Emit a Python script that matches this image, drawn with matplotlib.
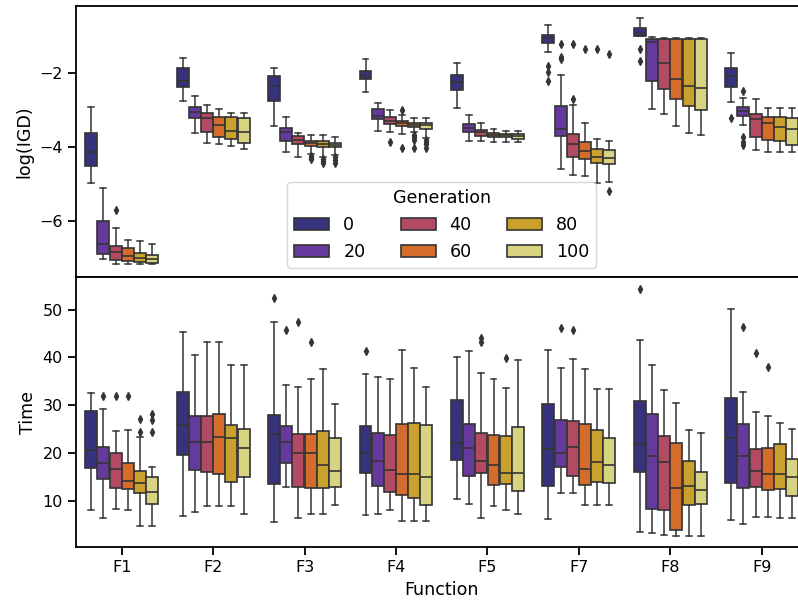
import numpy as np
import matplotlib
matplotlib.use("Agg")
import matplotlib.pyplot as plt
from matplotlib.patches import Patch
import colorsys

functions = ["F1", "F2", "F3", "F4", "F5", "F7", "F8", "F9"]
generations = ["0", "20", "40", "60", "80", "100"]

# ---------- log(IGD) box statistics (rows: functions, cols: generations) ----------
igd_whishi = [
    [-2.91, -5.10, -6.18, -6.51, -6.55, -6.62],
    [-1.60, -2.63, -2.86, -2.98, -3.07, -3.07],
    [-1.87, -3.18, -3.61, -3.67, -3.68, -3.74],
    [-1.63, -2.82, -3.00, -3.14, -3.22, -3.22],
    [-1.74, -3.13, -3.36, -3.52, -3.56, -3.57],
    [-0.71, -2.06, -2.86, -3.34, -3.79, -3.83],
    [-0.50, -1.02, -1.05, -1.05, -1.05, -1.05],
    [-1.47, -2.67, -2.70, -2.95, -2.95, -2.95],
]
igd_q3 = [
    [-3.63, -6.01, -6.68, -6.74, -6.87, -6.92],
    [-1.87, -2.92, -3.09, -3.18, -3.20, -3.22],
    [-2.08, -3.49, -3.71, -3.83, -3.85, -3.88],
    [-1.94, -2.98, -3.20, -3.29, -3.34, -3.34],
    [-2.06, -3.39, -3.55, -3.62, -3.65, -3.66],
    [-0.96, -2.89, -3.66, -3.86, -4.06, -4.07],
    [-0.79, -1.07, -1.07, -1.07, -1.07, -1.07],
    [-1.87, -2.92, -3.10, -3.18, -3.19, -3.21],
]
igd_med = [
    [-4.13, -6.61, -6.85, -6.95, -7.01, -7.04],
    [-2.22, -3.05, -3.22, -3.41, -3.56, -3.60],
    [-2.35, -3.59, -3.81, -3.90, -3.92, -3.95],
    [-2.09, -3.16, -3.29, -3.34, -3.41, -3.41],
    [-2.24, -3.48, -3.60, -3.67, -3.68, -3.71],
    [-1.05, -3.50, -3.93, -4.11, -4.27, -4.30],
    [-0.93, -1.16, -1.74, -2.16, -2.35, -2.41],
    [-2.08, -3.03, -3.25, -3.36, -3.47, -3.50],
]
igd_q1 = [
    [-4.50, -6.89, -7.05, -7.08, -7.11, -7.13],
    [-2.39, -3.22, -3.60, -3.72, -3.78, -3.88],
    [-2.77, -3.83, -3.93, -3.98, -4.01, -4.01],
    [-2.17, -3.25, -3.38, -3.43, -3.47, -3.51],
    [-2.46, -3.59, -3.71, -3.72, -3.74, -3.78],
    [-1.20, -3.69, -4.27, -4.32, -4.42, -4.47],
    [-0.99, -2.22, -2.44, -2.69, -2.88, -3.01],
    [-2.39, -3.16, -3.72, -3.82, -3.85, -3.95],
]
igd_whislo = [
    [-4.98, -7.02, -7.16, -7.16, -7.16, -7.16],
    [-2.76, -3.61, -3.89, -3.93, -3.97, -4.06],
    [-3.44, -4.14, -4.27, -4.19, -4.26, -4.22],
    [-2.50, -3.57, -3.59, -3.65, -3.59, -3.77],
    [-2.95, -3.83, -3.83, -3.86, -3.87, -3.87],
    [-1.44, -4.60, -4.76, -4.78, -4.96, -4.94],
    [-1.01, -2.98, -3.12, -3.44, -3.63, -3.68],
    [-2.78, -3.41, -4.08, -4.13, -4.13, -4.13],
]
igd_fliers = {
    ("F1", "40"): [-5.70],
    ("F3", "60"): [-4.24, -4.29, -4.32],
    ("F3", "80"): [-4.33, -4.38, -4.44],
    ("F3", "100"): [-4.27, -4.35, -4.42],
    ("F4", "40"): [-3.86],
    ("F4", "60"): [-3.00, -4.04],
    ("F4", "80"): [-3.68, -3.73, -3.81, -4.04],
    ("F4", "100"): [-3.81, -3.86, -3.93, -4.02],
    ("F7", "0"): [-1.81, -1.96, -2.22],
    ("F7", "20"): [-1.22, -1.56, -1.63],
    ("F7", "40"): [-1.22, -2.71],
    ("F7", "60"): [-1.35],
    ("F7", "80"): [-1.35],
    ("F7", "100"): [-1.49, -5.18],
    ("F8", "0"): [-1.35, -1.68],
    ("F9", "0"): [-3.22],
    ("F9", "20"): [-2.48, -3.72, -3.86, -3.95],
}

# ---------- Time box statistics ----------
time_whishi = [
    [32.6, 29.2, 24.6, 24.9, 23.4, 17.2],
    [45.3, 40.6, 43.3, 43.3, 38.5, 38.5],
    [47.4, 34.2, 33.9, 35.5, 37.6, 30.2],
    [36.6, 36.0, 35.6, 41.5, 37.9, 33.9],
    [40.1, 41.3, 36.7, 35.5, 33.7, 39.4],
    [41.5, 37.9, 39.7, 37.6, 33.5, 33.5],
    [43.6, 38.5, 33.1, 30.5, 24.9, 24.2],
    [50.1, 32.7, 28.7, 27.7, 26.4, 25.1],
]
time_q3 = [
    [28.8, 21.3, 20.0, 17.9, 16.2, 15.1],
    [32.7, 27.8, 27.7, 28.2, 25.8, 25.1],
    [28.0, 25.7, 24.1, 23.9, 24.7, 23.1],
    [25.7, 24.2, 23.7, 26.1, 26.3, 25.9],
    [31.1, 26.1, 24.3, 23.8, 23.5, 25.5],
    [30.3, 27.0, 26.8, 26.1, 24.8, 23.1],
    [30.9, 28.2, 23.5, 22.1, 18.4, 16.1],
    [31.6, 26.1, 20.8, 21.0, 21.9, 18.8],
]
time_med = [
    [20.6, 18.0, 16.6, 14.1, 13.7, 11.8],
    [25.8, 22.3, 22.3, 23.3, 23.1, 21.0],
    [24.1, 22.3, 20.1, 20.1, 17.6, 16.2],
    [20.0, 18.3, 16.4, 15.6, 15.6, 15.0],
    [22.1, 21.0, 18.4, 17.5, 15.9, 15.9],
    [20.8, 20.0, 21.2, 16.7, 18.2, 17.5],
    [21.9, 19.3, 18.2, 12.6, 13.2, 12.2],
    [23.1, 19.3, 16.2, 15.6, 15.6, 15.1],
]
time_q1 = [
    [16.8, 14.5, 12.8, 12.5, 11.6, 9.3],
    [19.6, 16.4, 16.1, 15.6, 13.9, 15.0],
    [13.5, 17.9, 12.9, 12.7, 12.7, 12.9],
    [15.8, 13.2, 11.9, 11.3, 10.7, 9.2],
    [18.5, 15.3, 15.8, 13.4, 13.6, 12.1],
    [13.2, 17.1, 15.3, 13.4, 14.0, 13.8],
    [16.1, 8.3, 8.0, 3.9, 9.1, 9.3],
    [13.8, 12.7, 12.9, 12.3, 12.5, 11.0],
]
time_whislo = [
    [8.1, 6.5, 8.3, 8.1, 4.8, 4.8],
    [6.9, 7.7, 8.9, 8.9, 8.9, 7.2],
    [5.6, 12.9, 6.5, 7.2, 7.2, 9.2],
    [7.1, 7.2, 8.2, 5.9, 5.9, 5.9],
    [10.4, 9.4, 6.4, 8.9, 8.0, 7.3],
    [6.2, 11.6, 11.6, 9.1, 9.1, 9.1],
    [3.4, 3.2, 2.8, 2.7, 2.7, 2.7],
    [6.0, 5.2, 6.6, 6.6, 6.4, 6.4],
]
time_fliers = {
    ("F1", "20"): [31.9],
    ("F1", "40"): [31.9],
    ("F1", "60"): [31.9],
    ("F1", "80"): [27.1, 24.5],
    ("F1", "100"): [28.1, 27.0, 24.5],
    ("F3", "0"): [52.5],
    ("F3", "20"): [45.8],
    ("F3", "40"): [47.4],
    ("F3", "60"): [43.2],
    ("F4", "0"): [41.3],
    ("F5", "40"): [44.0, 43.3],
    ("F5", "80"): [39.9],
    ("F7", "20"): [46.2],
    ("F7", "40"): [45.7],
    ("F8", "0"): [54.4],
    ("F9", "20"): [46.4],
    ("F9", "40"): [40.9],
    ("F9", "60"): [38.1],
}

# ---------- style ----------
plt.rcParams.update({
    "font.family": "DejaVu Sans",
    "axes.linewidth": 1.3,
    "xtick.major.width": 1.3,
    "ytick.major.width": 1.3,
    "xtick.major.size": 6,
    "ytick.major.size": 6,
    "xtick.labelsize": 11.5,
    "ytick.labelsize": 11.5,
    "axes.labelsize": 12.6,
})

cmap = matplotlib.colormaps["CMRmap"]
n = len(generations)
raw = [cmap(v)[:3] for v in np.linspace(0, 1, n + 2)[1:-1]]


def desat(c, prop=0.75):
    h, l, s = colorsys.rgb_to_hls(*c)
    return colorsys.hls_to_rgb(h, l, s * prop)


colors = [desat(c) for c in raw]
lum = min(colorsys.rgb_to_hls(*c)[1] for c in colors)
gray = (lum * 0.6,) * 3
lw = 1.2

fig = plt.figure(figsize=(7.98, 6.05), dpi=100)
W, H = 798.0, 605.0
left = 76.0 / W
width = (807.4 - 76.0) / W
ax1 = fig.add_axes([left, 1 - 276.7 / H, width, (276.7 - 5.7) / H])
ax2 = fig.add_axes([left, 1 - 547.3 / H, width, (547.3 - 276.7) / H], sharex=ax1)

group_w = 0.8
each = group_w / n
offsets = np.linspace(0, group_w - each, n) - (group_w - each) / 2
box_w = each * 0.98


def draw(ax, whishi, q3, med, q1, whislo, fliers):
    for i, f in enumerate(functions):
        for j, g in enumerate(generations):
            st = dict(med=med[i][j], q1=q1[i][j], q3=q3[i][j],
                      whislo=whislo[i][j], whishi=whishi[i][j],
                      fliers=fliers.get((f, g), []))
            ax.bxp([st], positions=[i + offsets[j]], widths=[box_w],
                   patch_artist=True, manage_ticks=False,
                   boxprops=dict(facecolor=colors[j], edgecolor=gray, linewidth=lw),
                   medianprops=dict(color=gray, linewidth=lw),
                   whiskerprops=dict(color=gray, linewidth=1.1),
                   capprops=dict(color=gray, linewidth=1.1),
                   flierprops=dict(marker="d", markersize=3.6,
                                   markerfacecolor=gray, markeredgecolor=gray,
                                   linestyle="none"))


draw(ax1, igd_whishi, igd_q3, igd_med, igd_q1, igd_whislo, igd_fliers)
draw(ax2, time_whishi, time_q3, time_med, time_q1, time_whislo, time_fliers)

ax1.set_xlim(-0.5, len(functions) - 0.5)
ax1.set_ylim(-7.505, -0.181)
ax1.set_yticks([-6, -4, -2])
ax1.set_ylabel("log(IGD)")
ax1.tick_params(axis="x", labelbottom=False)

ax2.set_ylim(0.3, 56.9)
ax2.set_yticks([10, 20, 30, 40, 50])
ax2.set_xticks(range(len(functions)))
ax2.set_xticklabels(functions)
ax2.set_xlabel("Function")
ax2.set_ylabel("Time")

handles = [Patch(facecolor=colors[j], edgecolor=gray, linewidth=lw, label=g)
           for j, g in enumerate(generations)]
ax1.legend(handles=handles, title="Generation", ncol=3, loc="lower center",
           fontsize=12.6, title_fontsize=12.6)

fig.savefig("out.png", dpi=100)
